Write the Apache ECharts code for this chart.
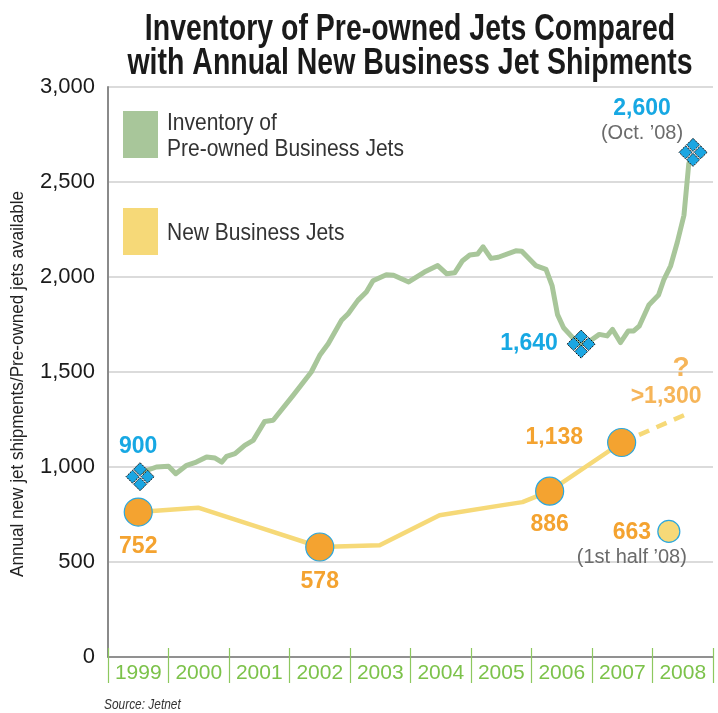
<!DOCTYPE html>
<html>
<head>
<meta charset="utf-8">
<script src="https://cdn.jsdelivr.net/npm/echarts@6/dist/echarts.min.js"></script>
<style>
  html, body { margin: 0; padding: 0; background: #fff; }
  #chart { width: 718px; height: 713px; }
</style>
</head>
<body>
<div id="chart"></div>
<script>
// ---- Data ----
const years = ['1999', '2000', '2001', '2002', '2003', '2004', '2005', '2006', '2007', '2008'];

// Inventory of pre-owned business jets (fractional year, count)
const inventoryT = [1999.58, 1999.80, 2000.00, 2000.12, 2000.30, 2000.46, 2000.63, 2000.77, 2000.88, 2000.96,
  2001.10, 2001.26, 2001.40, 2001.59, 2001.73, 2002.06, 2002.36, 2002.50, 2002.64, 2002.86,
  2002.97, 2003.13, 2003.27, 2003.38, 2003.60, 2003.72, 2003.97, 2004.23, 2004.45, 2004.60,
  2004.73, 2004.86, 2004.98, 2005.11, 2005.20, 2005.33, 2005.45, 2005.74, 2005.84, 2006.07,
  2006.24, 2006.34, 2006.43, 2006.53, 2006.68, 2006.80, 2006.93, 2007.12, 2007.25, 2007.34,
  2007.47, 2007.60, 2007.69, 2007.78, 2007.94, 2008.10, 2008.19, 2008.30, 2008.41, 2008.52, 2008.60];
const inventoryV = [975, 1000, 1004, 965, 1009, 1026, 1053, 1047, 1026, 1056,
  1070, 1114, 1140, 1240, 1246, 1377, 1500, 1588, 1649, 1772,
  1807, 1877, 1921, 1980, 2012, 2009, 1974, 2026, 2060, 2017,
  2022, 2086, 2116, 2121, 2159, 2098, 2104, 2138, 2136, 2060,
  2040, 1955, 1802, 1733, 1681, 1647, 1655, 1698, 1690, 1724,
  1655, 1716, 1716, 1741, 1853, 1905, 1988, 2059, 2183, 2325, 2598];

// New business jet shipments line
const newJetsT = [1999.50, 2000.49, 2001.50, 2002.50, 2003.49, 2004.48, 2005.50, 2005.85, 2006.30, 2007.49];
const newJetsV = [763, 786, 682, 579, 588, 746, 798, 815, 873, 1129];

// Projection (dashed)
const projT = [2007.49, 2008.54];
const projV = [1129, 1275];
const projLabel = ['?', '>1,300'];

// Annual highlighted points
const annualT = [1999.50, 2002.50, 2006.30, 2007.49];
const annualV = [763, 579, 873, 1129];
const annualLabels = ['752', '578', '886', '1,138'];

// First half 2008
const halfT = [2008.27];
const halfV = [661];
const halfLabels = ['663', '(1st half ’08)'];

// Inventory highlights
const diamondT = [1999.53, 2006.82, 2008.67];
const diamondV = [949, 1647, 2656];
const diamondLabels = ['900', '1,640', '2,600'];
const diamondNote = '(Oct. ’08)';

// ---- Styles ----
const SANS = '"Liberation Sans", Arial, Helvetica, sans-serif';
const GREEN = '#a8c69a';
const YELLOW = '#f6d978';
const ORANGE = '#f4a330';
const BLUE = '#17a8e3';
const GRAY = '#6b6b6b';

const pairs = (t, v) => t.map((x, i) => [x, v[i]]);

const richStyles = {
  b: { fontFamily: SANS, fontWeight: 'bold', fontSize: 23, color: BLUE, lineHeight: 26 },
  o: { fontFamily: SANS, fontWeight: 'bold', fontSize: 23, color: ORANGE, lineHeight: 26 },
  q: { fontFamily: SANS, fontWeight: 'bold', fontSize: 28, color: ORANGE, lineHeight: 30, padding: [0, 0, 0, 30] },
  g: { fontFamily: SANS, fontSize: 20, color: GRAY, lineHeight: 24 }
};

const diamondPath = 'path://M15,1L21.5,7.5L15,14L8.5,7.5Z M7.5,8.5L14,15L7.5,21.5L1,15Z M22.5,8.5L29,15L22.5,21.5L16,15Z M15,16L21.5,22.5L15,29L8.5,22.5Z';

const annualLabelCfg = [
  { position: 'bottom', distance: 7, offset: [0, 0] },
  { position: 'bottom', distance: 7, offset: [0, 0] },
  { position: 'bottom', distance: 6, offset: [0, 0] },
  { position: 'left', distance: 24, offset: [0, -5] }
];

const diamondLabelCfg = [
  { text: '{b|' + diamondLabels[0] + '}', offset: [-2, -30] },
  { text: '{b|' + diamondLabels[1] + '}', offset: [-52, 0] },
  { text: '{b|' + diamondLabels[2] + '}\n{g|' + diamondNote + '}', offset: [-51, -32] }
];

const chart = echarts.init(document.getElementById('chart'), null, { renderer: 'canvas' });

const option = {
  animation: false,
  backgroundColor: '#ffffff',
  grid: { left: 108, right: 5, top: 87, bottom: 56, containLabel: false },
  xAxis: [
    { type: 'value', min: 1999, max: 2009, show: false },
    {
      type: 'category', data: years, position: 'bottom', boundaryGap: true,
      axisLine: { show: true, lineStyle: { color: '#7a7a7a', width: 1.5 } },
      axisTick: { show: true, interval: 0, length: 26, lineStyle: { color: '#8dc85f', width: 1.2 } },
      axisLabel: { interval: 0, margin: 6, color: '#7cc24a', fontFamily: SANS, fontSize: 21 },
      splitLine: { show: false }
    },
    {
      type: 'category', data: years, position: 'bottom', boundaryGap: true,
      axisLine: { show: false },
      axisTick: { show: true, inside: true, interval: 0, length: 9, lineStyle: { color: '#8dc85f', width: 1.2 } },
      axisLabel: { show: false },
      splitLine: { show: false }
    }
  ],
  yAxis: {
    type: 'value', min: 0, max: 3000, interval: 500,
    axisLine: { show: true, lineStyle: { color: '#8a8a8a', width: 2 } },
    axisTick: { show: false },
    axisLabel: {
      margin: 13, color: '#1a1a1a', fontFamily: SANS, fontSize: 22,
      formatter: v => v.toLocaleString('en-US')
    },
    splitLine: { show: true, lineStyle: { color: '#cfcfcf', width: 1.5 } }
  },
  series: [
    {
      name: 'Inventory of Pre-owned Business Jets', type: 'line', xAxisIndex: 0,
      data: pairs(inventoryT, inventoryV), showSymbol: false, symbol: 'none',
      lineStyle: { color: GREEN, width: 5, join: 'round', cap: 'round' }, z: 2
    },
    {
      name: 'New Business Jets', type: 'line', xAxisIndex: 0,
      data: pairs(newJetsT, newJetsV), showSymbol: false, symbol: 'none',
      lineStyle: { color: YELLOW, width: 4.5, join: 'round' }, z: 3
    },
    {
      name: 'Projection', type: 'line', xAxisIndex: 0,
      data: pairs(projT, projV), showSymbol: false, symbol: 'none',
      lineStyle: { color: YELLOW, width: 4.5, type: [11, 8] }, z: 3
    },
    {
      name: 'Projection label', type: 'scatter', xAxisIndex: 0, silent: true,
      data: [{
        value: [projT[1], projV[1]],
        label: {
          show: true, position: 'inside', offset: [-19, -33], align: 'center',
          formatter: '{q|' + projLabel[0] + '}\n{o|' + projLabel[1] + '}', rich: richStyles
        }
      }],
      symbolSize: 2, itemStyle: { color: 'rgba(0,0,0,0)' }, z: 7
    },
    {
      name: 'Annual', type: 'scatter', xAxisIndex: 0,
      data: annualT.map((t, i) => ({
        value: [t, annualV[i]],
        label: {
          show: true, position: annualLabelCfg[i].position, distance: annualLabelCfg[i].distance,
          offset: annualLabelCfg[i].offset, formatter: '{o|' + annualLabels[i] + '}', rich: richStyles
        }
      })),
      symbol: 'circle', symbolSize: 28,
      itemStyle: { color: ORANGE, borderColor: '#2aa7df', borderWidth: 1.2, opacity: 1 }, z: 5
    },
    {
      name: 'First half 2008', type: 'scatter', xAxisIndex: 0,
      data: halfT.map((t, i) => ({
        value: [t, halfV[i]],
        label: {
          show: true, position: 'inside', offset: [-37, 13], align: 'center',
          formatter: '{o|' + halfLabels[0] + '}\n{g|' + halfLabels[1] + '}', rich: richStyles
        }
      })),
      symbol: 'circle', symbolSize: 22,
      itemStyle: { color: YELLOW, borderColor: '#2aa7df', borderWidth: 1.2, opacity: 1 }, z: 5
    },
    {
      name: 'Inventory points', type: 'scatter', xAxisIndex: 0,
      data: diamondT.map((t, i) => ({
        value: [t, diamondV[i]],
        label: {
          show: true, position: 'inside', offset: diamondLabelCfg[i].offset, align: 'center',
          formatter: diamondLabelCfg[i].text, rich: richStyles
        }
      })),
      symbol: diamondPath, symbolSize: 28,
      itemStyle: { color: '#1ba6e2', borderColor: '#111', borderWidth: 1, borderType: [2, 1], opacity: 1 }, z: 6
    }
  ],
  graphic: [
    {
      type: 'text', x: 410, y: 30, scaleX: 0.77,
      style: {
        text: 'Inventory of Pre-owned Jets Compared', fill: '#1a1a1a',
        font: 'bold 37px ' + SANS, textAlign: 'center', textVerticalAlign: 'middle'
      }
    },
    {
      type: 'text', x: 410, y: 64, scaleX: 0.77,
      style: {
        text: 'with Annual New Business Jet Shipments', fill: '#1a1a1a',
        font: 'bold 37px ' + SANS, textAlign: 'center', textVerticalAlign: 'middle'
      }
    },
    {
      type: 'text', x: 18, y: 384, rotation: Math.PI / 2, scaleX: 0.9,
      style: {
        text: 'Annual new jet shipments/Pre-owned jets available', fill: '#222',
        font: '19px ' + SANS, textAlign: 'center', textVerticalAlign: 'middle'
      }
    },
    { type: 'rect', shape: { x: 123, y: 111, width: 35, height: 47 }, style: { fill: GREEN } },
    {
      type: 'text', x: 167, y: 123, scaleX: 0.875,
      style: { text: 'Inventory of', fill: '#333', font: '24px ' + SANS, textVerticalAlign: 'middle' }
    },
    {
      type: 'text', x: 167, y: 149, scaleX: 0.875,
      style: { text: 'Pre-owned Business Jets', fill: '#333', font: '24px ' + SANS, textVerticalAlign: 'middle' }
    },
    { type: 'rect', shape: { x: 123, y: 208, width: 35, height: 47 }, style: { fill: YELLOW } },
    {
      type: 'text', x: 167, y: 233, scaleX: 0.875,
      style: { text: 'New Business Jets', fill: '#333', font: '24px ' + SANS, textVerticalAlign: 'middle' }
    },
    {
      type: 'text', x: 104, y: 705, scaleX: 0.85,
      style: { text: 'Source: Jetnet', fill: '#333', font: 'italic 14px ' + SANS, textVerticalAlign: 'middle' }
    }
  ]
};

chart.setOption(option);
</script>
</body>
</html>
